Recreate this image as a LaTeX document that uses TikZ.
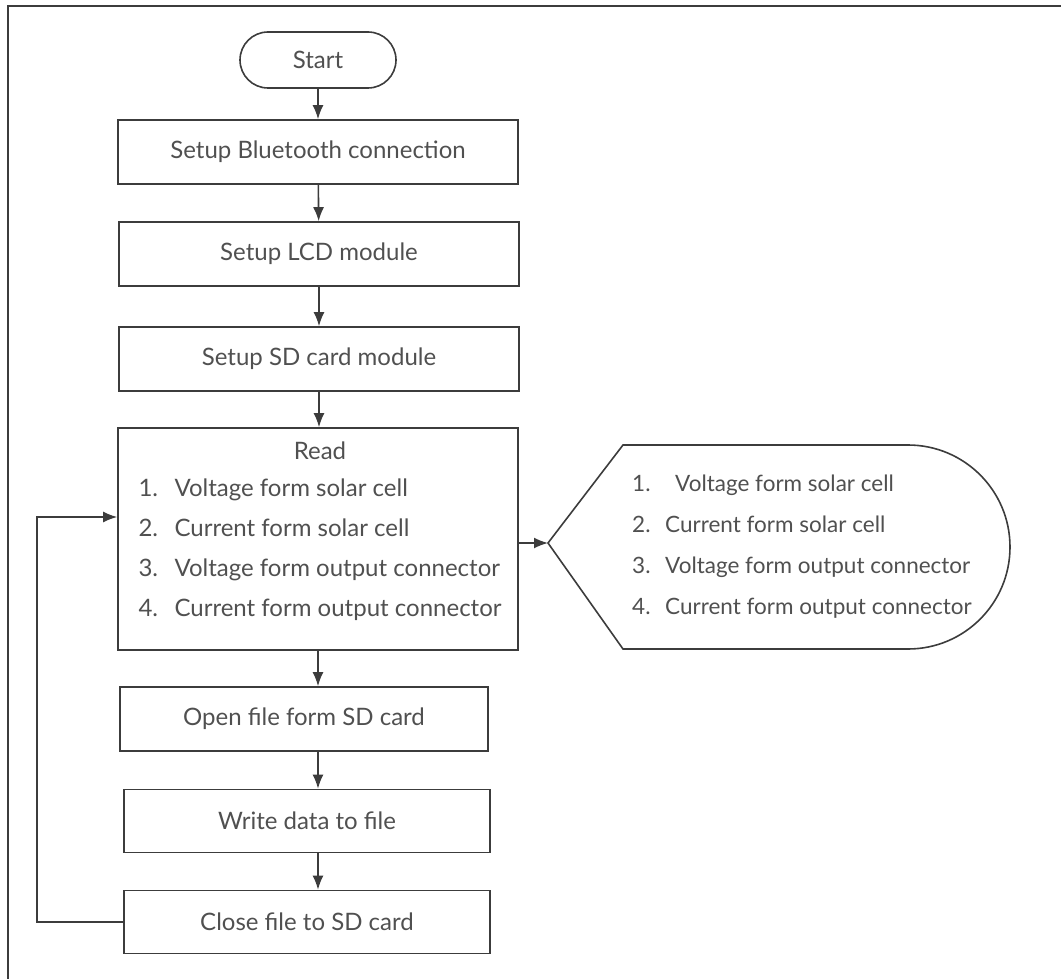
\documentclass[tikz,border=0pt]{standalone}
\usepackage{fontspec}
\setmainfont{Lato}
\usetikzlibrary{shapes.misc}
\usetikzlibrary{arrows.meta}
\usepackage{xcolor}
\definecolor{linegray}{HTML}{3C3C3C}
\definecolor{textgray}{HTML}{505050}

\begin{document}
\begin{tikzpicture}[x=1pt, y=-1pt,
    box/.style = {draw=linegray, line width=1.6pt, minimum width=#1,
                minimum height=64pt, inner sep=0pt, text=textgray,
                font=\fontsize{24}{28}\selectfont},
    box/.default = 400pt,  % width of the process boxes
    txt/.style = {text=textgray, inner sep=0pt,
                font=\fontsize{#1}{40}\selectfont},
    txt/.default = 24,
    arr/.style = {draw=linegray, line width=1.6pt,
                -{Latex[length=14pt,width=11pt]}}
                    ]
    \useasboundingbox (0,0) rectangle (1061,979);
    \def\cx{318}
    \def\tipx{548}
    \def\tipy{543}
    % frame
    \draw[linegray, line width=1.6pt] (1061,6) -- (8,6) -- (8,979);
    % main column
    \node[box, rounded rectangle, minimum width=156pt, minimum height=56pt] at (\cx,60) (start) {Start};
    \node[box] at (\cx,152) (blue) {Setup Bluetooth connection};
    \node[box] at (\cx+1,254) (lcd) {Setup LCD module};
    \node[box] at (\cx+1,359) (sdc) {Setup SD card module};
    \node[box, minimum height=222pt] at (\cx,539) (read) {};
    \node[txt, anchor=north] at (\cx+2,431) (readtxt) {%
        \begin{tabular}{@{}p{36pt}@{}l@{}}
        \multicolumn{2}{@{}c@{}}{Read}\\[-3pt]
        1. & Voltage form solar cell\\
        2. & Current form solar cell\\
        3. & Voltage form output connector\\
        4. & Current form output connector
        \end{tabular}};
    \node[box=368pt, minimum height=64pt] at (304,719) (open) {Open file form SD card};
    \node[box=366pt, minimum height=63pt] at (307,821) (write) {Write data to file};
    \node[box=366pt, minimum height=63pt] at (307,922) (close) {Close file to SD card};
    % display shape
    \coordinate (disptip) at (\tipx,\tipy);
    \draw[linegray, line width=1.6pt] (disptip) -- (623,445) -- (908,445)
        arc[start angle=-90, end angle=90, radius=102] -- (623,649) -- cycle;
    \node[txt=22.5, anchor=west] at (632,545) (disptxt) {%
        \renewcommand\arraystretch{1.02}%
        \begin{tabular}{@{}p{33pt}@{}l@{}}
        1. & \hspace{10pt}Voltage form solar cell\\
        2. & Current form solar cell\\
        3. & Voltage form output connector\\
        4. & Current form output connector
        \end{tabular}};
    % connectors
    \draw[arr] (start) -- (blue);
    \draw[arr] (blue) -- (lcd);
    \draw[arr] (lcd) -- (sdc);
    \draw[arr] (sdc.south) -- (sdc.south |- read.north);
    \draw[arr] (read.south) -- (read.south |- open.north);
    \draw[arr] (open.south -| read.south) -- (read.south |- write.north);
    \draw[arr] (write.south -| read.south) -- (read.south |- close.north);
    \draw[arr] (read.east |- disptip) -- (disptip);
    \coordinate (back) at (37,517);
    \draw[arr] (close.west) -| (back) -- (back -| read.west);
\end{tikzpicture}
\end{document}
